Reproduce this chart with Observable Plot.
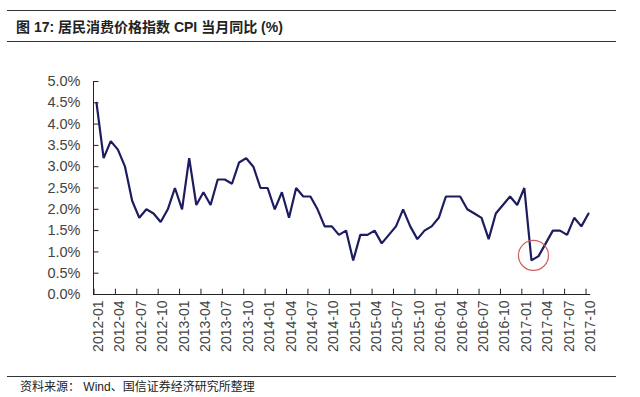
<!DOCTYPE html>
<html>
<head>
<meta charset="utf-8">
<script src="https://cdn.jsdelivr.net/npm/d3@7"></script>
<script src="https://cdn.jsdelivr.net/npm/@observablehq/plot@0.6"></script>
<style>
  html, body { margin: 0; padding: 0; background: #fff; }
  #wrap { position: relative; width: 640px; height: 397px; overflow: hidden; font-family: Arial, "Liberation Sans", "Noto Sans CJK SC", sans-serif; }
  .rule { position: absolute; left: 7px; width: 609px; height: 0; border-top: 1.5px solid #333; }
  #title { position: absolute; left: 16px; top: 16px; font-size: 14px; font-weight: bold; color: #222; font-family: "Liberation Sans", "Noto Sans CJK SC", sans-serif; white-space: nowrap; }
  #source { position: absolute; left: 20px; top: 377px; font-size: 12px; color: #222; font-family: "Liberation Sans", "Noto Sans CJK SC", sans-serif; white-space: nowrap; }
  #chart { position: absolute; left: 0; top: 0; }
</style>
</head>
<body>
<div id="wrap">
  <div id="chart"></div>
  <div class="rule" style="top:10px"></div>
  <div id="title">图 17: 居民消费价格指数 CPI 当月同比 (%)</div>
  <div class="rule" style="top:41px"></div>
  <div class="rule" style="top:376px"></div>
  <div id="source">资料来源： Wind、国信证券经济研究所整理</div>
</div>
<script>
// Months 2012-01 .. 2017-10
const years = [2012, 2013, 2014, 2015, 2016, 2017];
const months = years.flatMap(y => d3.range(1, 13).map(m => `${y}-${String(m).padStart(2, "0")}`)).slice(0, 70);

// CPI YoY (%)
const cpi = [
  4.5, 3.2, 3.6, 3.4, 3.0, 2.2, 1.8, 2.0, 1.9, 1.7, 2.0, 2.5,
  2.0, 3.2, 2.1, 2.4, 2.1, 2.7, 2.7, 2.6, 3.1, 3.2, 3.0, 2.5,
  2.5, 2.0, 2.4, 1.8, 2.5, 2.3, 2.3, 2.0, 1.6, 1.6, 1.4, 1.5,
  0.8, 1.4, 1.4, 1.5, 1.2, 1.4, 1.6, 2.0, 1.6, 1.3, 1.5, 1.6,
  1.8, 2.3, 2.3, 2.3, 2.0, 1.9, 1.8, 1.3, 1.9, 2.1, 2.3, 2.1,
  2.5, 0.8, 0.9, 1.2, 1.5, 1.5, 1.4, 1.8, 1.6, 1.9
];

const yTicks = d3.range(0, 0.0501, 0.005);
const xTickIdx = d3.range(0, 70, 3);
const highlight = ["2017-02"];

const data = months.map((m, i) => ({i, month: m, v: cpi[i] / 100}));
const hl = data.filter(d => highlight.includes(d.month));

const plot = Plot.plot({
  width: 640,
  height: 397,
  marginLeft: 96,
  marginRight: 52,
  marginTop: 81,
  marginBottom: 103,
  style: {fontFamily: "Arial, 'Liberation Sans', sans-serif", background: "transparent"},
  x: {domain: [0, 69]},
  y: {domain: [0, 0.05]},
  marks: [
    // axis frame
    Plot.ruleX([-0.42], {y1: 0, y2: 0.05, stroke: "#222", strokeWidth: 1}),
    Plot.ruleY([0], {x1: -0.42, x2: 69.3, stroke: "#222", strokeWidth: 1}),
    // inward ticks
    Plot.ruleY(yTicks, {x1: -0.42, x2: 0.35, y: d => d, stroke: "#222", strokeWidth: 1}),
    Plot.ruleX(xTickIdx, {x: d => d - 0.35, y1: 0, y2: 0.00125, stroke: "#222", strokeWidth: 1}),
    Plot.axisY({ticks: yTicks, tickFormat: d3.format(".1%"), tickSize: 0, tickPadding: 16, fontSize: 14.5, color: "#444", label: null}),
    Plot.axisX({ticks: xTickIdx, tickFormat: i => months[i], tickSize: 0, tickPadding: 6, tickRotate: -90, fontSize: 14, color: "#444", label: null, dx: 2}),
    Plot.line(data, {x: "i", y: "v", stroke: "#1c1c5e", strokeWidth: 2.2, strokeLinejoin: "miter"}),
    Plot.dot(hl, {x: "i", y: "v", r: 15, stroke: "#d0605f", strokeWidth: 1.2, fill: "none", dx: 2, dy: -5})
  ]
});
document.getElementById("chart").appendChild(plot);
</script>
</body>
</html>
